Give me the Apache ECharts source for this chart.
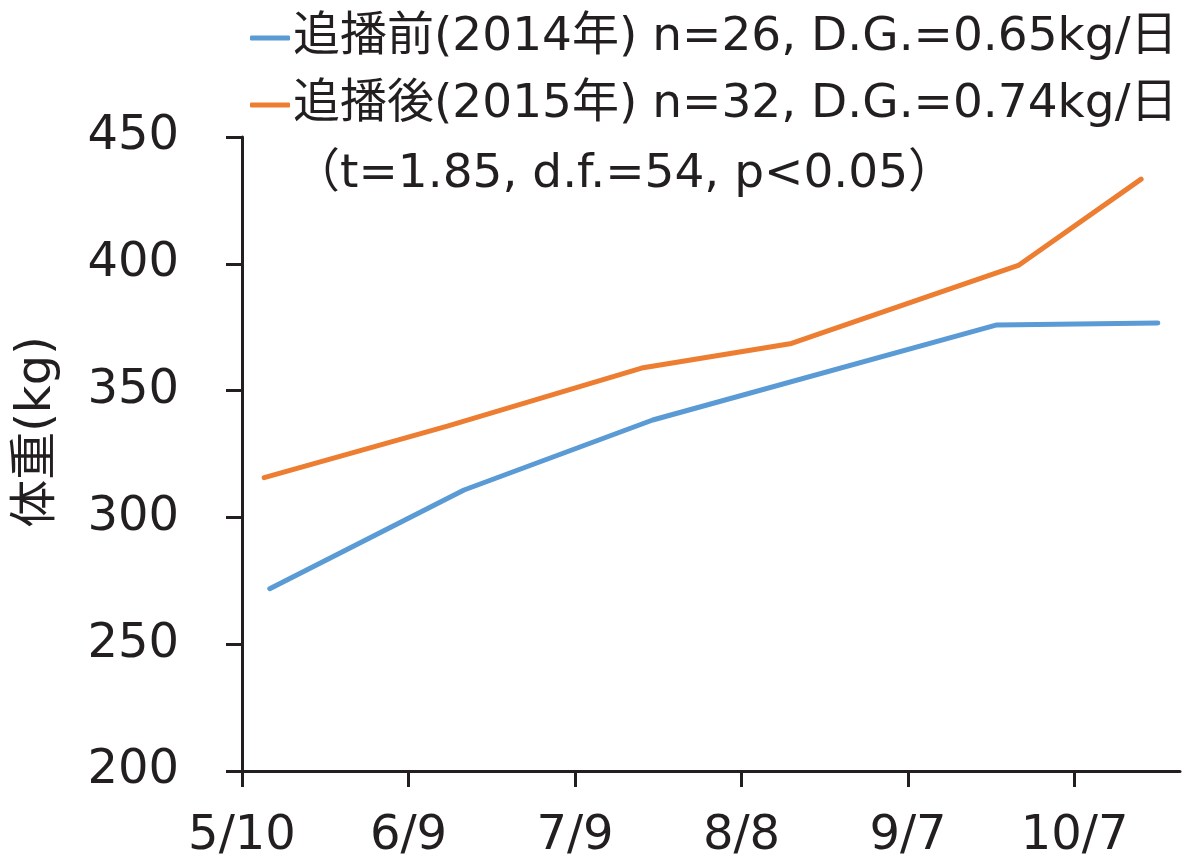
<!DOCTYPE html>
<html>
<head>
<meta charset="utf-8">
<title>体重の推移</title>
<script src="https://cdn.jsdelivr.net/npm/echarts@6/dist/echarts.min.js"></script>
<style>
  html, body { margin: 0; padding: 0; background: #ffffff; }
  #chart { width: 1188px; height: 861px; }
</style>
</head>
<body>
<div id="chart"></div>
<script>
// Weighing dates (month/day) and mean body weight (kg) of each group
const seriesNames = [
  '追播前(2014年) n=26, D.G.=0.65kg/日',
  '追播後(2015年) n=32, D.G.=0.74kg/日'
];
const datesBefore = ['5/15', '6/19', '7/23', '9/23', '10/22'];
const weightsBefore = [271.9, 310.8, 338.4, 375.9, 376.7];
const datesAfter = ['5/14', '6/16', '7/21', '8/17', '9/27', '10/19'];
const weightsAfter = [315.7, 336.0, 358.9, 368.6, 399.5, 433.4];
const statsNote = '（t=1.85, d.f.=54, p<0.05）';
const yAxisTitle = '体重(kg)';

// x axis is counted in days from 5/10, ticks every 30 days
const startDate = '5/10';
const dayMs = 86400000;
function toDay(md) {
  const [m, d] = md.split('/').map(Number);
  const [m0, d0] = startDate.split('/').map(Number);
  return Math.round((Date.UTC(2015, m - 1, d) - Date.UTC(2015, m0 - 1, d0)) / dayMs);
}
function dayLabel(v) {
  const [m0, d0] = startDate.split('/').map(Number);
  const t = new Date(Date.UTC(2015, m0 - 1, d0) + v * dayMs);
  return (t.getUTCMonth() + 1) + '/' + t.getUTCDate();
}
function pairs(dates, values) {
  return dates.map((d, i) => [toDay(d), values[i]]);
}

const ink = '#231f20';
const fontFamily = "'DejaVu Sans', 'Noto Sans CJK JP', sans-serif";

const chart = echarts.init(document.getElementById('chart'), null, { renderer: 'canvas' });
chart.setOption({
  animation: false,
  backgroundColor: '#ffffff',
  grid: { left: 242, right: 8, top: 137, bottom: 89, containLabel: false },
  legend: {
    orient: 'vertical',
    left: 245,
    top: 5,
    itemWidth: 40,
    itemHeight: 5,
    itemGap: 11,
    icon: 'roundRect',
    textStyle: { fontSize: 47, color: ink, fontFamily: fontFamily, lineHeight: 56, padding: [0, 0, 0, -2] },
    data: seriesNames
  },
  xAxis: {
    type: 'value',
    min: 0,
    max: 169,
    interval: 30,
    splitLine: { show: false },
    axisLine: { lineStyle: { color: ink, width: 3 } },
    axisTick: { length: 16, lineStyle: { color: ink, width: 3 } },
    axisLabel: {
      fontSize: 48, color: ink, fontFamily: fontFamily, margin: 42,
      showMaxLabel: false,
      formatter: dayLabel
    }
  },
  yAxis: {
    type: 'value',
    min: 200,
    max: 450,
    interval: 50,
    splitLine: { show: false },
    axisLine: { show: true, lineStyle: { color: ink, width: 3 } },
    axisTick: { show: true, length: 16, lineStyle: { color: ink, width: 3 } },
    axisLabel: { fontSize: 48, color: ink, fontFamily: fontFamily, margin: 63 }
  },
  graphic: [
    {
      type: 'text',
      x: 38, y: 432,
      rotation: Math.PI / 2,
      style: {
        text: yAxisTitle, fontSize: 48, fill: ink, fontFamily: fontFamily,
        textAlign: 'center', textVerticalAlign: 'middle'
      }
    },
    {
      type: 'text',
      x: 293, y: 175,
      style: {
        text: statsNote, fontSize: 47, fill: ink, fontFamily: fontFamily,
        textAlign: 'left', textVerticalAlign: 'middle'
      }
    }
  ],
  series: [
    {
      name: seriesNames[0],
      type: 'line',
      data: pairs(datesBefore, weightsBefore),
      showSymbol: false,
      color: '#5b9bd5',
      lineStyle: { width: 5, cap: 'round', join: 'round' }
    },
    {
      name: seriesNames[1],
      type: 'line',
      data: pairs(datesAfter, weightsAfter),
      showSymbol: false,
      color: '#ed7d31',
      lineStyle: { width: 5, cap: 'round', join: 'round' }
    }
  ]
});
</script>
</body>
</html>
